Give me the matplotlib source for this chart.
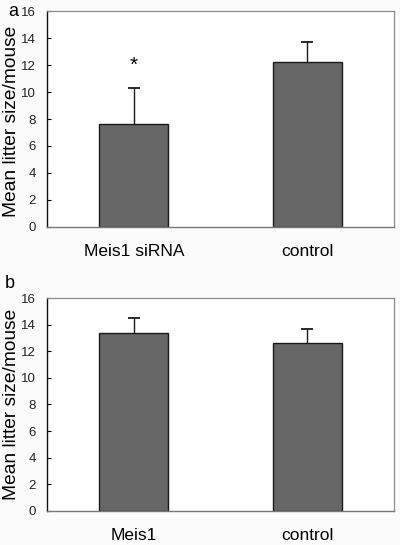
import matplotlib
matplotlib.use("Agg")
import matplotlib.pyplot as plt
import numpy as np

plt.rcParams['font.family'] = ['Liberation Sans', 'DejaVu Sans']

cats_a = ["Meis1 siRNA", "control"]
means_a = [7.6, 12.2]
err_a = [2.7, 1.5]

cats_b = ["Meis1", "control"]
means_b = [13.4, 12.65]
err_b = [1.1, 1.05]

yticks = [0, 2, 4, 6, 8, 10, 12, 14, 16]

fig = plt.figure(figsize=(4.0, 5.45), dpi=100)
fig.patch.set_facecolor("#fbfbfb")

def panel(rect, cats, means, errs, letter, letter_xy, label_y, star=None):
    ax = fig.add_axes(rect)
    ax.set_facecolor("white")
    x = np.arange(len(cats))
    means = np.asarray(means)
    errs = np.asarray(errs)
    ax.bar(x, means, width=0.4, color="#676767", edgecolor="#1a1a1a", linewidth=1.0, zorder=2)
    ax.vlines(x, means, means + errs, color="#1a1a1a", linewidth=1.0, zorder=3)
    ax.plot(x, means + errs, linestyle="none", marker="_", markersize=8,
            markeredgewidth=1.3, color="#1a1a1a", zorder=3)
    ax.set_xlim(-0.5, 1.5)
    ax.set_ylim(0, 16)
    ax.set_yticks(yticks)
    ax.set_yticklabels([str(t) for t in yticks], fontsize=9.5, color="#222222")
    ax.set_xticks(x)
    ax.set_xticklabels(cats, fontsize=12.5)
    ax.tick_params(axis="x", length=0, pad=12)
    ax.tick_params(axis="y", direction="in", length=3, width=0.8, pad=8)
    ax.set_ylabel("Mean litter size/mouse", fontsize=13.8)
    ax.yaxis.set_label_coords(-0.078, label_y)
    for s in ["top", "right"]:
        ax.spines[s].set_color("#8a8a8a")
        ax.spines[s].set_linewidth(0.9)
    ax.spines["left"].set_color("#111111")
    ax.spines["left"].set_linewidth(1.0)
    ax.spines["bottom"].set_color("#777777")
    ax.spines["bottom"].set_linewidth(1.0)
    fig.text(letter_xy[0], letter_xy[1], letter, fontsize=13, ha="center", va="center")
    if star is not None:
        ax.text(star[0], star[1], "*", fontsize=15, ha="center", va="center")
    return ax

panel([0.1175, 0.5835, 0.8675, 0.3963], cats_a, means_a, err_a, "a", (0.032, 0.979),
      0.487, star=(0, 12.0))
panel([0.1175, 0.0624, 0.8675, 0.3908], cats_b, means_b, err_b, "b", (0.025, 0.479),
      0.5)

fig.savefig("out.png", dpi=100, facecolor=fig.get_facecolor())
